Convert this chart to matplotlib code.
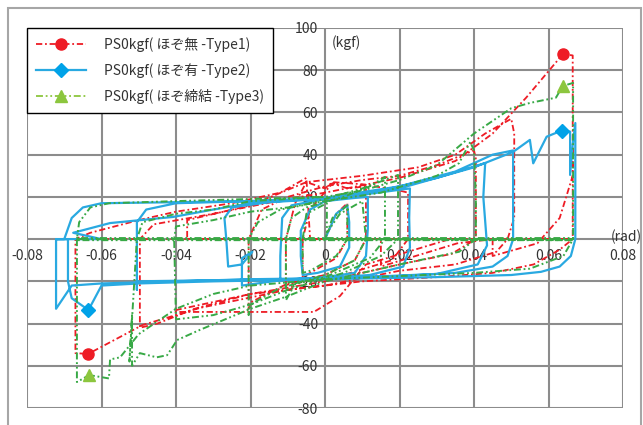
import matplotlib
matplotlib.use('Agg')
import matplotlib.pyplot as plt
from matplotlib.lines import Line2D
from matplotlib.patches import Rectangle
import numpy as np

plt.rcParams['font.family'] = ['Noto Sans CJK JP', 'DejaVu Sans']
plt.rcParams['lines.scale_dashes'] = False

# ---------------- data ----------------
series_labels = ['PS0kgf( ほぞ無 -Type1)', 'PS0kgf( ほぞ有 -Type2)', 'PS0kgf( ほぞ締結 -Type3)']

xticks = [-0.08, -0.06, -0.04, -0.02, 0.0, 0.02, 0.04, 0.06, 0.08]
xtick_labels = ['-0.08', '-0.06', '-0.04', '-0.02', '0', '0.02', '0.04', '0.06', '0.08']
yticks = [-80, -60, -40, -20, 0, 20, 40, 60, 80, 100]
ytick_labels = ['-80', '-60', '-40', '-20', '', '20', '40', '60', '80', '100']

# Type1 (rad, kgf)
type1_xy = np.array([
    (-0.067, 0), (0.066, 0), (0.0, 0),
    (0.003, 12), (0.006, 17), (0.006, 0), (0.003, -9), (-0.004, -16), (-0.006, -18), (-0.006, 0),
    (-0.004, 14), (0.002, 26.5), (0.006, 24), (0.011, 25), (0.011, 0), (0.008, -10), (0.0, -17),
    (-0.008, -20), (-0.0105, -22), (-0.0105, 0),
    (-0.008, 17), (-0.005, 27), (0.0, 24), (0.002, 27), (0.01, 26), (0.02, 23), (0.0223, 22),
    (0.0223, 0), (0.018, -10), (0.005, -17), (-0.01, -21), (-0.02, -30), (-0.0205, -33), (-0.0205, 0),
    (-0.017, 14), (-0.01, 20), (0.0, 25), (0.01, 28), (0.02, 30), (0.03, 35), (0.04, 42), (0.0405, 38),
    (0.0405, 0), (0.034, -7), (0.02, -12), (0.0, -20), (-0.02, -26), (-0.04, -33.6), (-0.0405, -34.5),
    (-0.02, -34.5), (-0.003, -34.5), (0.004, -27), (0.011, -12), (0.0335, 0), (-0.037, 0),
    (-0.037, 9), (-0.02, 16), (-0.005, 27), (0.01, 30), (0.025, 34), (0.035, 40), (0.043, 50),
    (0.05, 57), (0.0508, 50), (0.0508, 10), (0.049, 0), (0.046, -6), (0.035, -12), (0.02, -15),
    (0.0, -22), (-0.02, -26), (-0.035, -33), (-0.045, -40), (-0.0497, -42), (-0.0497, 0),
    (-0.046, 7), (-0.03, 12), (-0.01, 19), (0.0, 22), (0.02, 29), (0.035, 37), (0.045, 50),
    (0.054, 67), (0.0639, 87.7), (0.0665, 87), (0.0665, 40), (0.0665, 0), (0.063, -5), (0.056, -12),
    (0.045, -16), (0.03, -18), (0.01, -20), (-0.01, -24), (-0.0336, -32.6), (-0.049, -40.7),
    (-0.0636, -54.4), (-0.067, -54), (-0.067, -20), (-0.067, 0),
    (-0.063, 3), (-0.05, 9), (-0.04, 13), (-0.025, 17), (-0.012, 22), (-0.005, 29), (-0.004, 0),
    (0.015, 0), (0.015, -13), (0.0355, -2), (0.045, 0), (0.045, -8), (0.057, -2), (0.063, 10),
    (0.0665, 30), (0.0665, 45),
])

# Type2
type2_xy = np.array([
    (0.0, 0), (0.003, 12), (0.006, 16), (0.0065, 8), (0.0065, -4), (0.004, -13), (-0.002, -16),
    (-0.006, -17), (-0.0065, -8), (-0.0065, 4),
    (-0.004, 14), (0.0, 18), (0.008, 19.5), (0.0115, 20), (0.0115, 5), (0.011, -8), (0.008, -16),
    (0.0, -18), (-0.008, -19), (-0.012, -19.5), (-0.012, -8), (-0.0115, 10),
    (-0.009, 16), (0.0, 19), (0.012, 21.5), (0.0228, 24), (0.0226, 10), (0.0228, -4), (0.021, -13),
    (0.012, -17), (0.0, -18.5), (-0.012, -19.5), (-0.0223, -22), (-0.0223, -9), (-0.0195, -6),
    (-0.0223, -12), (-0.026, -13), (-0.0265, 0),
    (-0.027, 10), (-0.025, 15), (-0.015, 17.5), (0.0, 19), (0.015, 23), (0.03, 29), (0.043, 36),
    (0.0425, 20), (0.0435, -3), (0.041, -12), (0.03, -16.5), (0.01, -18), (-0.01, -19),
    (-0.03, -19.5), (-0.0505, -20), (-0.0505, -24), (-0.0505, 0),
    (-0.0505, 8), (-0.048, 14), (-0.04, 17), (-0.02, 18), (0.0, 19.5), (0.02, 25), (0.035, 32),
    (0.045, 40), (0.0505, 42), (0.0505, 20), (0.0505, 0), (0.049, -8), (0.045, -13), (0.035, -16),
    (0.02, -17.5), (0.0, -18.5), (-0.02, -19), (-0.04, -20), (-0.06, -21), (-0.068, -22),
    (-0.0722, -33), (-0.0722, -15), (-0.0722, 0),
    (-0.07, 0), (-0.068, 10), (-0.065, 15), (-0.06, 17), (-0.04, 17.5), (-0.02, 18), (0.0, 19),
    (0.02, 24), (0.03, 29), (0.04, 34), (0.0505, 41.3), (0.055, 47), (0.0559, 35.9), (0.0595, 48.5),
    (0.0635, 51.4), (0.0658, 50.9), (0.0658, 30.4), (0.0665, 45), (0.0672, 55), (0.0672, 20),
    (0.0672, 0), (0.066, -8), (0.063, -13), (0.058, -15.5), (0.05, -17), (0.03, -18), (0.0, -19),
    (-0.03, -20), (-0.05, -21), (-0.06, -22), (-0.0635, -33.6), (-0.068, -28), (-0.069, -20),
    (-0.069, 0), (-0.0722, 0), (-0.06, 0),
    (-0.0676, 3), (-0.0577, 7.6), (-0.0408, 10.5), (-0.03, 14), (-0.02, 17), (0.0, 19.5),
])

# Type3
type3_xy = np.array([
    (-0.0666, 0), (0.0666, 0), (0.0666, 0.5), (-0.0666, 0.5), (-0.0666, -0.5), (0.0666, -0.5),
    (0.0, 0),
    (0.002, 10), (0.006, 16), (0.006, 0), (0.003, -8), (-0.004, -15), (-0.006, -16), (-0.006, 0),
    (-0.005, 12), (0.0005, 17), (0.0005, 3), (0.004, 12), (0.01, 18), (0.011, 0), (0.008, -10),
    (0.0, -17), (-0.008, -21), (-0.0105, -29), (-0.0105, 0),
    (-0.009, 10), (-0.005, 15), (0.005, 20), (0.012, 25), (0.0161, 29.5), (0.0161, 0),
    (0.012, -9), (0.0, -18), (-0.012, -23), (-0.02, -31), (-0.0205, -36), (-0.0205, 0),
    (-0.018, 8), (-0.012, 14), (-0.006, 16), (0.0, 19), (0.01, 24), (0.0196, 30.4), (0.0196, 0),
    (0.015, -8), (0.005, -16), (-0.01, -24), (-0.02, -31), (-0.03, -36), (-0.04, -38), (-0.0405, 0),
    (-0.04, 6), (-0.03, 9), (-0.02, 13), (-0.01, 15), (0.0, 18), (0.015, 22), (0.03, 30),
    (0.036, 36), (0.039, 46), (0.04, 42), (0.0405, 20), (0.0405, 0),
    (0.036, -6), (0.02, -12), (0.0, -20), (-0.01, -27), (-0.02, -33), (-0.0336, -43),
    (-0.0397, -47.8), (-0.0411, -51.6), (-0.0424, -55), (-0.0452, -56), (-0.0497, -54),
    (-0.0518, -60), (-0.0518, -36), (-0.0525, -58), (-0.0505, 0),
    (-0.049, 8), (-0.04, 12), (-0.03, 14), (-0.02, 18), (0.0, 20), (0.01, 23), (0.02, 28),
    (0.03, 35), (0.04, 50), (0.05, 62), (0.055, 64.5), (0.062, 67), (0.0638, 72.5), (0.0666, 74),
    (0.0666, 40), (0.0666, 0),
    (0.064, -8), (0.055, -14), (0.04, -16), (0.02, -17.5), (0.0, -19), (-0.02, -22), (-0.03, -26),
    (-0.04, -33), (-0.05, -45), (-0.055, -56), (-0.0577, -57), (-0.058, -66), (-0.0633, -64.4),
    (-0.0666, -67.7), (-0.0666, -30), (-0.0666, 0),
    (-0.066, 8), (-0.063, 15), (-0.058, 17), (-0.04, 18), (-0.02, 19), (0.0, 20),
])

# marker (peak) points
type1_mx = [0.0639, -0.0636]
type1_my = [87.7, -54.4]
type2_mx = [0.0635, -0.0635]
type2_my = [51.4, -33.6]
type3_mx = [0.0638, -0.0633]
type3_my = [72.5, -64.4]

# ---------------- style ----------------
red = '#EE1C25'
blue = '#29A9E1'
blue_m = '#00A2E8'
green = '#38A946'
green_m = '#8CC63E'
dash1 = (4.5, 2, 1.3, 2)
dash3 = (5, 2, 1.3, 2, 1.3, 2)

fig = plt.figure(figsize=(6.43, 4.25), dpi=100)
fig.patches.append(Rectangle((8 / 643, -0.05), (641 - 8) / 643, 1 - 8 / 425 + 0.05,
                             transform=fig.transFigure, fill=False,
                             edgecolor='#a6a6a6', lw=1.5))

ax = fig.add_axes([27 / 643, 1 - 408 / 425, 596 / 643, 380 / 425])
ax.set_xlim(-0.08, 0.08)
ax.set_ylim(-80, 100)
ax.set_xticks(xticks)
ax.set_xticklabels(xtick_labels)
ax.set_yticks(yticks)
ax.set_yticklabels(ytick_labels)
ax.set_axisbelow(True)
ax.grid(True, color='#8c8c8c', lw=1.5)
for gl in ax.get_xgridlines() + ax.get_ygridlines():
    gl.set_clip_on(False)
for s in ['top', 'right']:
    ax.spines[s].set_visible(False)
ax.spines['left'].set_position(('data', 0))
ax.spines['bottom'].set_position(('data', 0))
ax.spines['left'].set_color('none')
ax.spines['bottom'].set_color('none')
ax.tick_params(length=0, labelsize=10, labelcolor='#333333')
ax.tick_params(axis='y', pad=5)
ax.tick_params(axis='x', pad=7)
ax.patch.set_alpha(0)

ax.plot(type1_xy[:, 0], type1_xy[:, 1], color=red, lw=1.3, dashes=dash1, zorder=3)
ax.plot(type2_xy[:, 0], type2_xy[:, 1], color=blue, lw=1.6, zorder=3.1)
ax.plot(type3_xy[:, 0], type3_xy[:, 1], color=green, lw=1.4, dashes=dash3, zorder=3.2)

ax.plot(type1_mx, type1_my, 'o', ms=8, color=red, zorder=5)
ax.plot(type2_mx, type2_my, 'D', ms=7.5, color=blue_m, zorder=5)
ax.plot(type3_mx, type3_my, '^', ms=9, color=green_m, zorder=5)

handles = [
    Line2D([], [], color=red, lw=1.3, dashes=dash1, marker='o', ms=8, mfc=red, mec=red),
    Line2D([], [], color=blue, lw=1.6, marker='D', ms=7.5, mfc=blue_m, mec=blue_m),
    Line2D([], [], color=green_m, lw=1.3, dashes=dash3, marker='^', ms=9, mfc=green_m, mec=green_m),
]
leg = ax.legend(handles, series_labels, loc='upper left', bbox_to_anchor=(0, 1),
                borderaxespad=0, frameon=True, fancybox=False, edgecolor='black',
                framealpha=1, fontsize=10, handlelength=3.6, handletextpad=1.3,
                labelspacing=0.8, borderpad=0.65)
leg.get_frame().set_linewidth(1.0)
leg.set_zorder(10)
for t in leg.get_texts():
    t.set_color('#333333')

ax.text(0.0019, 92.9, '(kgf)', ha='left', va='center', fontsize=10, color='#333333')
ax.text(0.0768, 1.0, '(rad)', ha='left', va='center', fontsize=10, color='#333333', clip_on=False)

fig.savefig('out.png', dpi=100)
